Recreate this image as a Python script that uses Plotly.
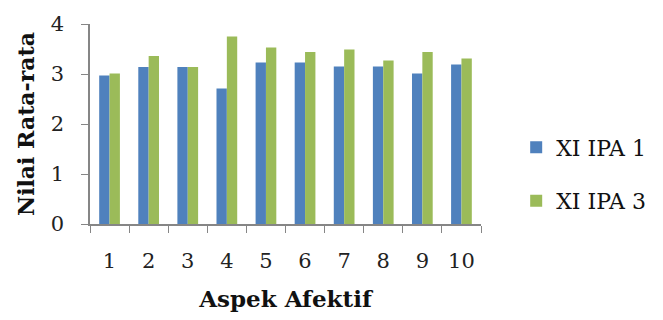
import plotly.graph_objects as go

categories = ["1", "2", "3", "4", "5", "6", "7", "8", "9", "10"]
xi_ipa_1 = [2.97, 3.14, 3.14, 2.71, 3.23, 3.23, 3.15, 3.15, 3.01, 3.19]
xi_ipa_3 = [3.01, 3.36, 3.14, 3.75, 3.53, 3.44, 3.49, 3.27, 3.44, 3.31]
y_ticks = [0, 1, 2, 3, 4]

serif = "DejaVu Serif"

fig = go.Figure()
fig.add_trace(go.Bar(x=categories, y=xi_ipa_1, name="XI IPA 1",
                     marker=dict(color="#4F81BD", line=dict(width=0)), legendgroup="a"))
fig.add_trace(go.Bar(x=categories, y=xi_ipa_3, name="XI IPA 3",
                     marker=dict(color="#9BBB59", line=dict(width=0)), legendgroup="b"))

fig.update_layout(
    width=663, height=320,
    margin=dict(l=90, r=173, t=20, b=96),
    paper_bgcolor="white", plot_bgcolor="white",
    barmode="group", bargap=0.47, bargroupgap=0,
    font=dict(family=serif, color="#222222"),
    showlegend=True,
    legend=dict(x=1.09, y=0.248, xanchor="left", yanchor="middle",
                font=dict(family=serif, size=22, color="#111111"),
                tracegroupgap=22, itemwidth=30),
    xaxis=dict(
        type="category",
        showline=True, linecolor="#868686", linewidth=1.5,
        ticks="outside", tickson="boundaries", ticklen=7, tickcolor="#868686",
        tickfont=dict(family=serif, size=21, color="#222222"),
        ticklabelstandoff=17,
        title=dict(text="<b>Aspek Afektif</b>", font=dict(family=serif, size=23, color="#111111"), standoff=19),
        showgrid=False,
    ),
    yaxis=dict(
        range=[0, 4], tickvals=y_ticks,
        showline=True, linecolor="#868686", linewidth=1.5,
        ticks="outside", ticklen=7, tickcolor="#868686",
        tickfont=dict(family=serif, size=21, color="#222222"),
        ticklabelstandoff=13,
        title=dict(text="<b>Nilai Rata-rata</b>", font=dict(family=serif, size=22, color="#111111"), standoff=10),
        showgrid=False, zeroline=False,
    ),
)

fig.write_html("out.html")
